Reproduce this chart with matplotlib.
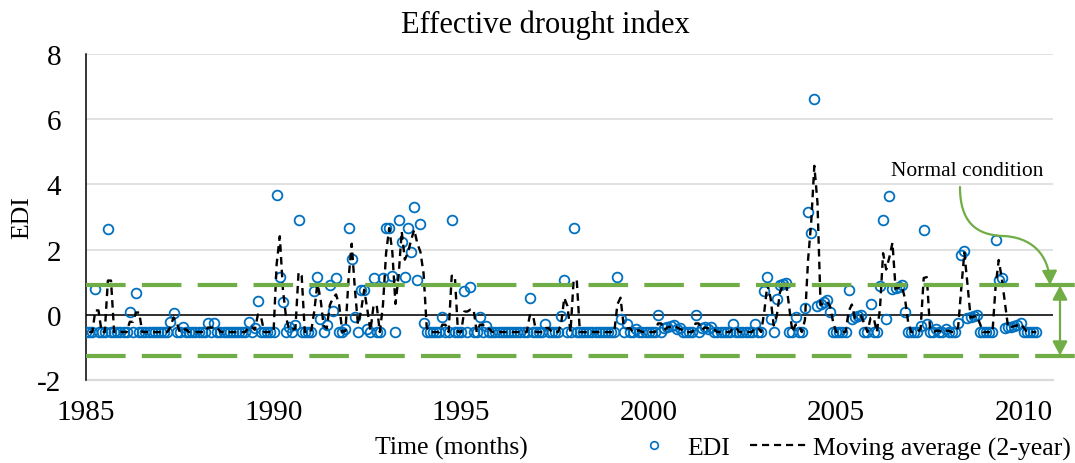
import numpy as np
import matplotlib
matplotlib.use("Agg")
import matplotlib.pyplot as plt
from matplotlib.lines import Line2D
from matplotlib.path import Path
from matplotlib.patches import FancyArrowPatch
from matplotlib import transforms

plt.rcParams["font.family"] = ["Liberation Serif", "DejaVu Serif"]
plt.rcParams["axes.unicode_minus"] = False

# monthly EDI values, one row per year (Jan..Dec)
years = list(range(1985, 2011))
edi_rows = [
    [-0.53, -0.53, -0.53, 0.80, -0.53, -0.53, -0.53, 2.63, -0.53, -0.53, -0.53, -0.53],  # 1985
    [-0.53, -0.53, 0.10, -0.53, 0.67, -0.53, -0.53, -0.53, -0.53, -0.53, -0.53, -0.53],  # 1986
    [-0.53, -0.53, -0.53, -0.22, 0.06, -0.53, -0.53, -0.37, -0.53, -0.53, -0.53, -0.53],  # 1987
    [-0.53, -0.53, -0.53, -0.25, -0.53, -0.25, -0.53, -0.53, -0.53, -0.53, -0.53, -0.53],  # 1988
    [-0.53, -0.53, -0.53, -0.53, -0.22, -0.53, -0.39, 0.41, -0.53, -0.53, -0.53, -0.53],  # 1989
    [-0.53, 3.66, 1.16, 0.38, -0.53, -0.38, -0.53, -0.31, 2.92, -0.53, -0.53, -0.53],  # 1990
    [-0.53, 0.72, 1.16, -0.12, -0.53, -0.31, 0.90, 0.13, 1.12, -0.53, -0.53, -0.45],  # 1991
    [2.66, 1.70, -0.06, -0.53, 0.77, 0.77, -0.45, -0.53, 1.12, -0.53, -0.53, 1.12],  # 1992
    [2.66, 2.66, 1.20, -0.53, 2.90, 2.22, 1.16, 2.66, 1.92, 3.30, 1.08, 2.77],  # 1993
    [-0.24, -0.53, -0.53, -0.53, -0.53, -0.53, -0.08, -0.53, -0.53, 2.92, -0.53, -0.53],  # 1994
    [-0.53, 0.73, -0.53, 0.85, -0.53, -0.53, -0.08, -0.53, -0.33, -0.53, -0.53, -0.53],  # 1995
    [-0.53, -0.53, -0.53, -0.53, -0.53, -0.53, -0.53, -0.53, -0.53, -0.53, 0.51, -0.53],  # 1996
    [-0.53, -0.53, -0.53, -0.28, -0.53, -0.53, -0.53, -0.53, -0.04, 1.08, -0.53, -0.53],  # 1997
    [2.66, -0.53, -0.53, -0.53, -0.53, -0.53, -0.53, -0.53, -0.53, -0.53, -0.53, -0.53],  # 1998
    [-0.53, -0.53, 1.17, -0.12, -0.53, -0.29, -0.53, -0.53, -0.43, -0.53, -0.53, -0.53],  # 1999
    [-0.53, -0.53, -0.53, 0.00, -0.53, -0.40, -0.38, -0.35, -0.31, -0.45, -0.42, -0.53],  # 2000
    [-0.53, -0.53, -0.53, 0.00, -0.53, -0.40, -0.38, -0.45, -0.37, -0.53, -0.53, -0.53],  # 2001
    [-0.53, -0.53, -0.53, -0.28, -0.53, -0.53, -0.53, -0.53, -0.53, -0.53, -0.28, -0.53],  # 2002
    [-0.53, 0.73, 1.16, -0.12, -0.53, 0.47, 0.90, 0.93, 0.98, -0.53, -0.53, -0.07],  # 2003
    [-0.53, -0.53, 0.22, 3.15, 2.51, 6.63, 0.28, 0.33, 0.38, 0.44, 0.10, -0.53],  # 2004
    [-0.53, -0.53, -0.53, -0.53, 0.75, -0.12, -0.08, -0.05, -0.02, -0.53, -0.53, 0.34],  # 2005
    [-0.53, -0.53, 0.88, 2.90, -0.12, 3.64, 0.78, 0.82, 0.86, 0.90, 0.10, -0.53],  # 2006
    [-0.53, -0.53, -0.53, -0.33, 2.59, -0.28, -0.53, -0.53, -0.45, -0.53, -0.53, -0.45],  # 2007
    [-0.53, -0.53, -0.53, -0.25, 1.84, 1.97, -0.10, -0.07, -0.05, -0.02, -0.53, -0.53],  # 2008
    [-0.53, -0.53, -0.53, 2.28, 1.08, 1.12, -0.40, -0.38, -0.36, -0.34, -0.30, -0.25],  # 2009
    [-0.53, -0.53, -0.53, -0.53, -0.53],  # 2010
]

# band of normal condition
normal_upper = 0.90
normal_lower = -1.25

xticks = [1985, 1990, 1995, 2000, 2005, 2010]
yticks = [-2, 0, 2, 4, 6, 8]

BLUE = "#0070C0"
GREEN = "#70AD47"

t = np.concatenate([[y + m / 12 for m in range(len(row))] for y, row in zip(years, edi_rows)])
edi = np.concatenate([np.array(row) for row in edi_rows])
# 2-period moving average trendline (as in the spreadsheet)
ma = (edi[1:] + edi[:-1]) / 2

W, H = 1075, 464
fig = plt.figure(figsize=(W / 100, H / 100), dpi=100)
ax = fig.add_axes([86 / W, 1 - 381 / H, 967 / W, 326 / H])

ax.set_xlim(1985, 2010.78)
ax.set_ylim(-2, 8)
ax.set_xticks(xticks)
ax.set_yticks(yticks)
ax.tick_params(length=0, labelsize=21)
ax.tick_params(axis="x", pad=14)
ax.tick_params(axis="y", pad=18)
ax.grid(axis="y", color="#D9D9D9", lw=1.1)
ax.set_axisbelow(True)
for s in ["top", "right", "bottom"]:
    ax.spines[s].set_visible(False)
ax.spines["left"].set_color("black")
ax.spines["left"].set_linewidth(1.1)
ax.axhline(-2, color="#D9D9D9", lw=1.6, clip_on=False, zorder=0.5)
ax.axhline(0, color="black", lw=1.1, zorder=1.5)

ax.plot(t, edi, ls="none", marker="o", ms=7, mfc="none", mec=BLUE, mew=1.3, zorder=3)
ax.plot(t[1:], ma, color="black", lw=1.7, ls=(0, (3.2, 2.2)), zorder=4)

for lvl in (normal_upper, normal_lower):
    ax.axhline(lvl, xmin=0, xmax=(W - 86) / 967, color=GREEN, lw=3.0,
               ls=(0, (9.5, 3.9)), clip_on=False, zorder=5)

blend = transforms.blended_transform_factory(ax.transAxes, ax.transData)
xa = (1060 - 86) / 967
ax.annotate("", xy=(xa, normal_lower), xytext=(xa, normal_upper), xycoords=blend,
            textcoords=blend, annotation_clip=False,
            arrowprops=dict(arrowstyle="<|-|>,head_length=0.85,head_width=0.45",
                            mutation_scale=10, color=GREEN, lw=1.6,
                            shrinkA=0, shrinkB=0))

# curved pointer from the label to the band
def fp(px, py):
    return (px / W, 1 - py / H)

verts = [fp(960, 188), fp(960, 222), fp(975, 236), fp(1003, 237),
         fp(1030, 238), fp(1049, 254), fp(1050, 286)]
codes = [Path.MOVETO] + [Path.CURVE4] * 6
arr = FancyArrowPatch(path=Path(verts, codes), transform=fig.transFigure,
                      arrowstyle="-|>,head_length=0.85,head_width=0.45",
                      mutation_scale=10, color=GREEN, lw=1.6)
fig.add_artist(arr)

fig.text(967 / W, 1 - 172 / H, "Normal condition", fontsize=15.5, ha="center", va="center")
fig.text(545 / W, 1 - 25 / H, "Effective drought index", fontsize=22, ha="center", va="center")
fig.text(22 / W, 1 - 218 / H, "EDI", fontsize=18.5, rotation=90, ha="center", va="center")
fig.text(451 / W, 1 - 448 / H, "Time (months)", fontsize=18.5, ha="center", va="center")

handles = [
    Line2D([], [], ls="none", marker="o", ms=5.5, mfc="none", mec=BLUE, mew=1.2),
    Line2D([], [], color="black", lw=1.6, ls=(0, (3.2, 2.2))),
]
fig.legend(handles, ["EDI", "Moving average (2-year)"], loc="center left",
           bbox_to_anchor=(624 / W, 1 - 449 / H), ncol=2, frameon=False,
           fontsize=18.5, handlelength=2.3, handletextpad=0.15,
           columnspacing=0.8, borderpad=0, borderaxespad=0)

fig.savefig("out.png", dpi=100)
